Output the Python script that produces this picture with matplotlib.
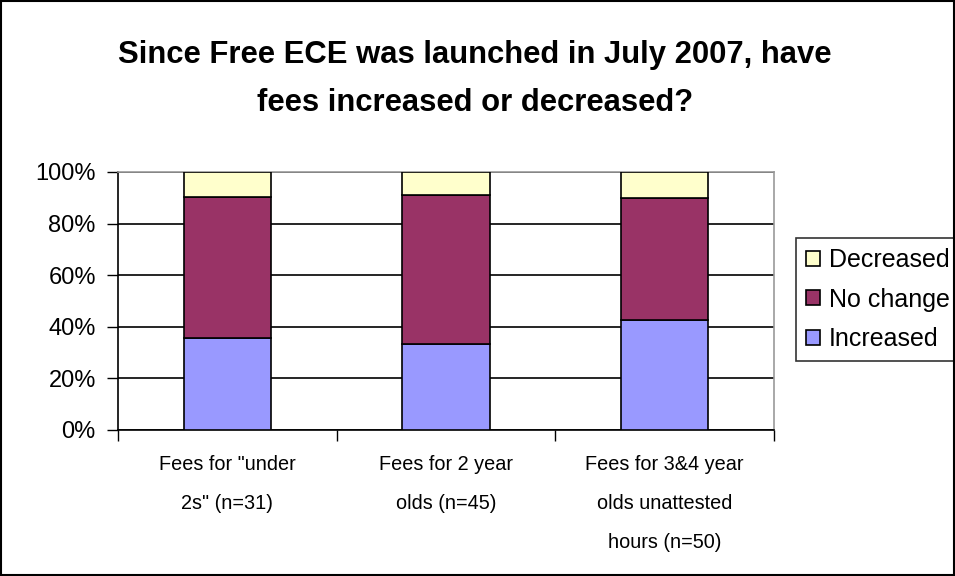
import matplotlib.pyplot as plt
import numpy as np
from matplotlib.patches import Rectangle

plt.rcParams['font.family'] = ['Liberation Sans', 'DejaVu Sans']

categories = ['Fees for "under\n2s" (n=31)', 'Fees for 2 year\nolds (n=45)',
              'Fees for 3&4 year\nolds unattested\nhours (n=50)']
increased = [35.5, 33.3, 42.6]
no_change = [54.8, 57.8, 47.2]
decreased = [9.7, 8.9, 10.2]

colors = {'Increased': '#9999FF', 'No change': '#993366', 'Decreased': '#FFFFCC'}

fig = plt.figure(figsize=(9.55, 5.76), dpi=100)
ax = fig.add_axes([118/955, 1 - 430/576, (774-118)/955, (430-172)/576])

x = np.arange(len(categories))
width = 0.40
inc = np.array(increased)
noc = np.array(no_change)
dec = np.array(decreased)

b1 = ax.bar(x, inc, width, color=colors['Increased'], edgecolor='black', linewidth=1.2, label='Increased', zorder=3)
b2 = ax.bar(x, noc, width, bottom=inc, color=colors['No change'], edgecolor='black', linewidth=1.2, label='No change', zorder=3)
b3 = ax.bar(x, dec, width, bottom=inc + noc, color=colors['Decreased'], edgecolor='black', linewidth=1.2, label='Decreased', zorder=3)

ax.set_xlim(-0.5, 2.5)
ax.set_ylim(0, 100)
ax.set_yticks(np.arange(0, 101, 20))
ax.set_yticklabels([f'{v}%' for v in range(0, 101, 20)])
ax.yaxis.grid(True, color='black', linewidth=1.2, zorder=0)
ax.set_axisbelow(True)

ax.set_xticks([-0.5, 0.5, 1.5, 2.5])
ax.set_xticklabels([])
ax.set_xticks(x, minor=True)
ax.set_xticklabels(categories, minor=True, linespacing=2.34)
ax.tick_params(axis='x', which='minor', length=0, pad=18, labelsize=14.3)
ax.tick_params(axis='x', which='major', direction='out', length=8, width=1)
ax.tick_params(axis='y', direction='out', length=8, width=1, labelsize=17, pad=8)

ax.spines['top'].set_color('#999999')
ax.spines['right'].set_color('#999999')
ax.spines['left'].set_color('black')
ax.spines['bottom'].set_color('black')
for s in ax.spines.values():
    s.set_linewidth(1.2)

fig.text(0.497, 1 - 79/576, 'Since Free ECE was launched in July 2007, have\nfees increased or decreased?',
         ha='center', va='center', fontsize=22.3, fontweight='bold', linespacing=1.75)

leg = ax.legend(handles=[b3, b2, b1], loc='upper left',
                bbox_to_anchor=(796/955, 1 - 238/576), bbox_transform=fig.transFigure,
                fontsize=18, frameon=True, fancybox=False, edgecolor='black',
                handlelength=0.55, handleheight=0.55, handletextpad=0.35,
                labelspacing=0.62, borderpad=0.4, borderaxespad=0)
leg.get_frame().set_linewidth(1.2)

fig.patches.append(Rectangle((0.001, 0.001), 0.998, 0.998, transform=fig.transFigure,
                             fill=False, edgecolor='black', linewidth=1.5))

fig.savefig('out.png', dpi=100)
